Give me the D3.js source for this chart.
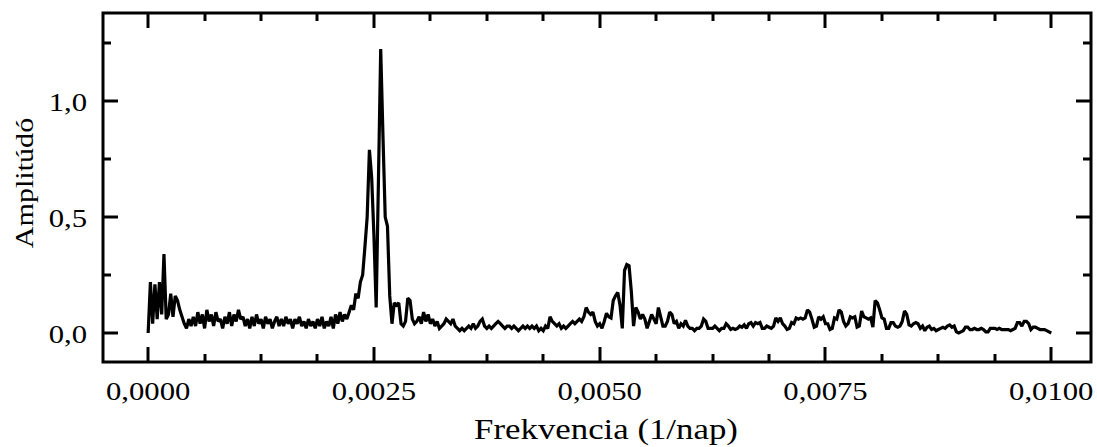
<!DOCTYPE html>
<html>
<head>
<meta charset="utf-8">
<script src="https://cdn.jsdelivr.net/npm/d3@7/dist/d3.min.js"></script>
<style>
  html, body { margin: 0; padding: 0; background: #fff; }
  svg { display: block; }
  text { font-family: "Liberation Serif", "Times New Roman", serif; fill: #000; }
</style>
</head>
<body>
<svg id="chart" width="1097" height="447"></svg>
<script>
// Amplitude spectrum: frequency grid step (1/nap) and amplitudes
const freqStep = 0.000025;
const amplitude = [
  0.00, 0.22, 0.04, 0.21, 0.06, 0.22, 0.08, 0.34, 0.06, 0.08,
  0.17, 0.07, 0.16, 0.14, 0.10, 0.07, 0.04, 0.02, 0.06, 0.03,
  0.07, 0.03, 0.09, 0.04, 0.08, 0.02, 0.10, 0.05, 0.08, 0.03,
  0.09, 0.05, 0.06, 0.02, 0.07, 0.04, 0.09, 0.03, 0.08, 0.05,
  0.10, 0.06, 0.07, 0.03, 0.06, 0.02, 0.07, 0.03, 0.08, 0.04,
  0.06, 0.02, 0.07, 0.04, 0.06, 0.02, 0.05, 0.07, 0.03, 0.06,
  0.03, 0.07, 0.04, 0.06, 0.02, 0.06, 0.04, 0.07, 0.03, 0.05,
  0.02, 0.06, 0.03, 0.05, 0.02, 0.06, 0.03, 0.07, 0.02, 0.05,
  0.03, 0.07, 0.02, 0.08, 0.04, 0.09, 0.05, 0.08, 0.06, 0.09,
  0.12, 0.10, 0.17, 0.15, 0.22, 0.25, 0.37, 0.50, 0.79, 0.67,
  0.42, 0.11, 0.66, 1.225, 0.85, 0.50, 0.46, 0.16, 0.04, 0.13,
  0.12, 0.13, 0.04, 0.03, 0.05, 0.15, 0.14, 0.06, 0.04, 0.05,
  0.07, 0.04, 0.09, 0.05, 0.08, 0.04, 0.06, 0.03, 0.05, 0.02,
  0.03, 0.04, 0.06, 0.05, 0.04, 0.06, 0.03, 0.02, 0.01, 0.02,
  0.01, 0.02, 0.03, 0.02, 0.04, 0.02, 0.03, 0.05, 0.06, 0.03,
  0.02, 0.03, 0.02, 0.03, 0.04, 0.05, 0.04, 0.03, 0.02, 0.03,
  0.03, 0.02, 0.03, 0.02, 0.01, 0.02, 0.03, 0.02, 0.03, 0.02,
  0.03, 0.02, 0.03, 0.01, 0.02, 0.01, 0.03, 0.02, 0.07, 0.05,
  0.04, 0.03, 0.04, 0.02, 0.03, 0.02, 0.03, 0.04, 0.05, 0.04,
  0.05, 0.06, 0.05, 0.07, 0.11, 0.09, 0.08, 0.09, 0.05, 0.03,
  0.04, 0.02, 0.05, 0.085, 0.07, 0.065, 0.14, 0.16, 0.175, 0.12,
  0.02, 0.27, 0.295, 0.29, 0.18, 0.03, 0.11, 0.09, 0.06, 0.08,
  0.06, 0.02, 0.05, 0.08, 0.06, 0.04, 0.11, 0.07, 0.03, 0.03,
  0.05, 0.09, 0.08, 0.04, 0.05, 0.02, 0.04, 0.03, 0.055, 0.03,
  0.02, 0.02, 0.01, 0.02, 0.02, 0.03, 0.06, 0.05, 0.02, 0.02,
  0.02, 0.03, 0.02, 0.01, 0.02, 0.02, 0.04, 0.03, 0.015, 0.02,
  0.015, 0.02, 0.03, 0.025, 0.035, 0.02, 0.04, 0.045, 0.03, 0.045,
  0.04, 0.045, 0.02, 0.02, 0.03, 0.025, 0.02, 0.03, 0.065, 0.05,
  0.065, 0.04, 0.03, 0.015, 0.02, 0.045, 0.04, 0.065, 0.06, 0.065,
  0.06, 0.065, 0.10, 0.09, 0.06, 0.025, 0.03, 0.07, 0.06, 0.07,
  0.04, 0.04, 0.015, 0.02, 0.065, 0.06, 0.10, 0.09, 0.05, 0.03,
  0.04, 0.07, 0.065, 0.07, 0.025, 0.03, 0.095, 0.07, 0.065, 0.06,
  0.065, 0.025, 0.14, 0.13, 0.10, 0.065, 0.06, 0.02, 0.02, 0.045,
  0.045, 0.03, 0.025, 0.03, 0.05, 0.095, 0.08, 0.035, 0.03, 0.04,
  0.045, 0.04, 0.02, 0.03, 0.01, 0.025, 0.03, 0.015, 0.02, 0.01,
  0.015, 0.02, 0.025, 0.02, 0.03, 0.035, 0.025, 0.03, 0.005, 0.00,
  0.005, 0.01, 0.025, 0.025, 0.015, 0.015, 0.02, 0.015, 0.015, 0.02,
  0.015, 0.005, 0.005, 0.02, 0.02, 0.02, 0.015, 0.02, 0.015, 0.015,
  0.015, 0.015, 0.01, 0.015, 0.02, 0.045, 0.045, 0.03, 0.05, 0.05,
  0.04, 0.015, 0.025, 0.025, 0.02, 0.015, 0.015, 0.015, 0.01, 0.005,
  0.00
];

// Axis ticks
const xMajorTicks = [0, 0.0025, 0.005, 0.0075, 0.01];
const xTickLabels = ["0,0000", "0,0025", "0,0050", "0,0075", "0,0100"];
const xMinorTicks = [0.000625, 0.00125, 0.001875, 0.003125, 0.00375, 0.004375,
                     0.005625, 0.00625, 0.006875, 0.008125, 0.00875, 0.009375];
const yMajorTicks = [0, 0.5, 1.0];
const yTickLabels = ["0,0", "0,5", "1,0"];
const yMinorTicks = [0.25, 0.75, 1.25];

const xTitle = "Frekvencia (1/nap)";
const yTitle = "Amplitúdó";

// Layout
const frame = { left: 103, right: 1091, top: 13, bottom: 362 };
const majorLen = 15, minorLen = 8;
const textStretch = 1.18;

const svg = d3.select("#chart");

const x = d3.scaleLinear().domain([-0.0005, 0.01044]).range([frame.left, frame.right]);
const y = d3.scaleLinear().domain([-0.125, 1.38]).range([frame.bottom, frame.top]);

const points = amplitude.map((a, i) => [i * freqStep, a]);

// Spectrum line
svg.append("path")
  .datum(points)
  .attr("fill", "none")
  .attr("stroke", "#000")
  .attr("stroke-width", 3.2)
  .attr("stroke-linejoin", "miter")
  .attr("stroke-miterlimit", 2)
  .attr("d", d3.line().x(d => x(d[0])).y(d => y(d[1])));

// Ticks on all four sides, pointing inward
const ticks = svg.append("g").attr("stroke", "#000").attr("stroke-width", 3);

function xTick(v, len) {
  const px = Math.round(x(v));
  ticks.append("line").attr("x1", px).attr("x2", px)
    .attr("y1", frame.bottom).attr("y2", frame.bottom - len);
  ticks.append("line").attr("x1", px).attr("x2", px)
    .attr("y1", frame.top).attr("y2", frame.top + len);
}
function yTick(v, len) {
  const py = Math.round(y(v));
  ticks.append("line").attr("y1", py).attr("y2", py)
    .attr("x1", frame.left).attr("x2", frame.left + len);
  ticks.append("line").attr("y1", py).attr("y2", py)
    .attr("x1", frame.right).attr("x2", frame.right - len);
}
xMajorTicks.forEach(v => xTick(v, majorLen));
xMinorTicks.forEach(v => xTick(v, minorLen));
yMajorTicks.forEach(v => yTick(v, majorLen));
yMinorTicks.forEach(v => yTick(v, minorLen));

// Frame
svg.append("rect")
  .attr("x", frame.left).attr("y", frame.top)
  .attr("width", frame.right - frame.left)
  .attr("height", frame.bottom - frame.top)
  .attr("fill", "none")
  .attr("stroke", "#000")
  .attr("stroke-width", 3);

// Text labels, slightly widened horizontally
function label(text, px, py, size, anchor, rotate) {
  svg.append("text")
    .attr("transform", `translate(${px},${py})${rotate ? " rotate(-90)" : ""} scale(${textStretch},1)`)
    .attr("text-anchor", anchor)
    .attr("font-size", size)
    .text(text);
}
xMajorTicks.forEach((v, i) => label(xTickLabels[i], x(v), 400, 26, "middle", false));
yMajorTicks.forEach((v, i) => label(yTickLabels[i], 87, y(v) + 9.5, 26, "end", false));

// Axis titles
label(xTitle, 606, 439, 29.5, "middle", false);
label(yTitle, 33, 183, 25.5, "middle", true);
</script>
</body>
</html>
